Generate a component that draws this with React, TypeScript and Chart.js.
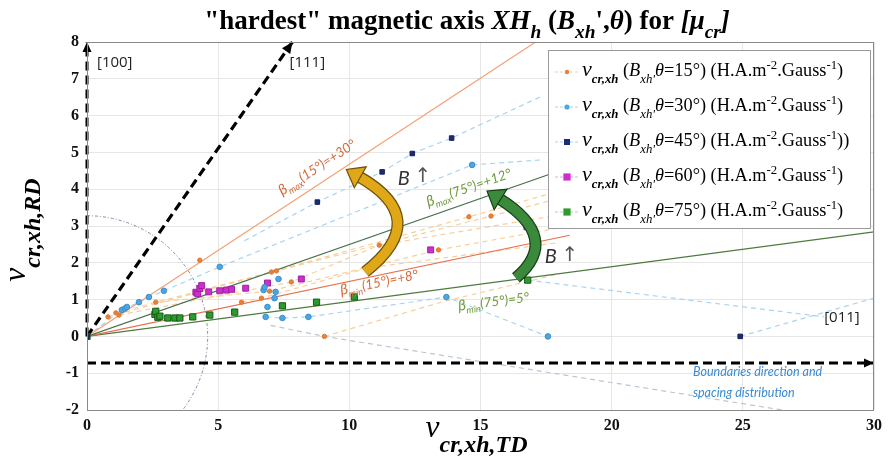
import React, { useEffect, useRef } from "react";
import { Chart, registerables } from "chart.js";

Chart.register(...registerables);

type P = [number, number];

// ---------- axis ticks ----------
const xTickValues = [0, 5, 10, 15, 20, 25, 30];
const yTickValues = [-2, -1, 0, 1, 2, 3, 4, 5, 6, 7, 8];

// ---------- measured series (nu_TD, nu_RD) ----------
const theta15: P[] = [
  [0.8, 0.53], [1.1, 0.64], [1.22, 0.58], [2.62, 0.93], [4.3, 2.07], [5.89, 0.93],
  [6.65, 1.04], [6.96, 1.23], [7.03, 1.75], [7.22, 1.78], [7.79, 1.48], [9.05, 0],
  [10.7, 1.86], [11.14, 2.48], [13.4, 2.35], [14.56, 3.25], [15.4, 3.27],
];
const theta30: P[] = [
  [1.33, 0.72], [1.45, 0.76], [1.52, 0.8], [1.98, 0.93], [2.36, 1.07], [2.93, 1.24],
  [5.06, 1.89], [6.73, 1.26], [6.77, 1.34], [6.81, 0.53], [6.88, 0.8], [7.15, 1.04],
  [7.19, 1.21], [7.3, 1.56], [7.45, 0.5], [8.44, 0.53], [13.7, 1.07], [14.68, 4.66], [17.57, 0],
];
const theta45: P[] = [[0, 0], [8.78, 3.65], [11.25, 4.47], [12.4, 4.97], [13.9, 5.39], [24.9, 0]];
const theta60: P[] = [
  [4.15, 1.2], [4.22, 1.16], [4.3, 1.3], [4.37, 1.38], [4.64, 1.21], [5.06, 1.24],
  [5.32, 1.26], [5.51, 1.28], [6.05, 1.31], [6.88, 1.45], [8.17, 1.56], [13.1, 2.35], [16.77, 2.98],
];
const theta75: P[] = [
  [0, 0], [2.59, 0.6], [2.62, 0.68], [2.7, 0.52], [2.78, 0.55], [3.08, 0.5], [3.35, 0.5],
  [3.54, 0.5], [4.03, 0.53], [4.68, 0.58], [5.63, 0.66], [7.45, 0.83], [8.75, 0.93],
  [10.19, 1.07], [16.8, 1.53],
];

// ---------- angular bounds (solid lines from the origin) ----------
const betaMax15: P[] = [[0, 0], [17.1, 8]];
const betaMax75: P[] = [[0, 0], [20, 5]];
const betaMin15: P[] = [[0, 0], [18.4, 2.75]];
const betaMin75: P[] = [[0, 0], [30, 2.84]];

// ---------- crystal directions (black dashed arrows) ----------
const dir100: P[] = [[0, 0], [0, 8]];
const dir111: P[] = [[0, 0], [7.83, 8]];
const boundaryDir: P[] = [[0, -0.72], [30, -0.72]];

// ---------- light dashed connectors ----------
const link15: P[][] = [
  [[1.1, 0.64], [7.03, 1.75], [14.56, 3.25], [18, 3.95]],
  [[0.8, 0.53], [7.22, 1.78], [15.4, 3.27], [18, 3.75]],
  [[1.22, 0.58], [7.79, 1.48], [11.14, 2.48], [18, 3.3]],
  [[2.62, 0.93], [6.96, 1.23], [13.4, 2.35], [18, 2.95]],
  [[5.89, 0.93], [6.65, 1.04], [10.7, 1.86], [18, 2.55]],
  [[9.05, 0], [13.6, 0.95], [18, 1.7]],
];
const link30: P[][] = [
  [[0, 0], [1.33, 0.72], [1.98, 0.93], [2.93, 1.24], [5.06, 1.89], [14.68, 4.66], [17.4, 4.8]],
  [[6.0, 2.6], [8.78, 3.65], [11.25, 4.47], [12.4, 4.97], [13.9, 5.39], [17.4, 6.55]],
  [[6.81, 0.53], [7.45, 0.5], [8.44, 0.53], [13.7, 1.07], [17.57, 0]],
  [[24.9, 0], [30, 1.04]],
  [[16.8, 1.53], [28.1, 0.53]],
];
const linkGrey: P[] = [[7.0, 0.3], [9.05, 0], [26.5, -2]];

// ---------- annotation anchors ----------
const quarterRadiusX = 4.6;
const goldArrow: P[] = [[10.6, 1.75], [13.2, 3.2], [10.35, 4.35]];
const greenArrow: P[] = [[16.35, 1.59], [18.12, 2.67], [15.7, 3.75]];

const legendLabels = ["15", "30", "45", "60", "75"];
const legendColors = ["#e8803a", "#4da6e0", "#1c2a78", "#cc2fcc", "#2d9a2d"];
const legendLineColors = ["#f8cf98", "#a8d4f0", "#a8d4f0", "#e0a8e0", "#a8d8a8"];

const SERIF = "'Liberation Serif', 'Times New Roman', serif";
const SANS = "Lato, 'Open Sans', sans-serif";

type Seg = { t: string; i?: boolean; b?: boolean; sub?: boolean; sup?: boolean; k?: number; dy?: number; c?: string };

function fontOf(s: Seg, size: number, fam: string, subK: number) {
  const sz = s.sub || s.sup ? size * subK : size * (s.k ?? 1);
  return `${s.i ? "italic " : ""}${s.b ? "bold " : ""}${sz.toFixed(1)}px ${fam}`;
}
function richWidth(ctx: CanvasRenderingContext2D, segs: Seg[], size: number, fam: string, subK: number) {
  let w = 0;
  for (const s of segs) {
    ctx.font = fontOf(s, size, fam, subK);
    w += ctx.measureText(s.t).width;
  }
  return w;
}
function drawRich(
  ctx: CanvasRenderingContext2D, segs: Seg[], x: number, y: number, size: number,
  fam: string, color: string, align: "left" | "center", subK = 0.72, subDy = 0.3,
) {
  ctx.save();
  ctx.textAlign = "left";
  ctx.textBaseline = "alphabetic";
  const w = richWidth(ctx, segs, size, fam, subK);
  let cx = align === "center" ? x - w / 2 : x;
  for (const s of segs) {
    ctx.font = fontOf(s, size, fam, subK);
    const dy = s.dy ?? (s.sub ? size * subDy : s.sup ? -size * 0.38 : 0);
    ctx.fillStyle = s.c ?? color;
    ctx.fillText(s.t, cx, y + dy);
    cx += ctx.measureText(s.t).width;
  }
  ctx.restore();
}

function arrowHead(ctx: CanvasRenderingContext2D, tx: number, ty: number, fx: number, fy: number, len: number, hw: number, fill: string, stroke?: string) {
  const a = Math.atan2(ty - fy, tx - fx);
  const bx = tx - len * Math.cos(a), by = ty - len * Math.sin(a);
  ctx.beginPath();
  ctx.moveTo(tx, ty);
  ctx.lineTo(bx + hw * Math.sin(a), by - hw * Math.cos(a));
  ctx.lineTo(bx - hw * Math.sin(a), by + hw * Math.cos(a));
  ctx.closePath();
  ctx.fillStyle = fill;
  ctx.fill();
  if (stroke) {
    ctx.strokeStyle = stroke;
    ctx.lineWidth = 1.2;
    ctx.setLineDash([]);
    ctx.stroke();
  }
}

const annotations = {
  id: "annotations",
  beforeDatasetsDraw(chart: any) {
    const { ctx, chartArea: ca } = chart;
    const xs = chart.scales.x, ys = chart.scales.y;
    ctx.save();
    ctx.beginPath();
    ctx.rect(ca.left, ca.top, ca.right - ca.left, ca.bottom - ca.top);
    ctx.clip();
    const ox = xs.getPixelForValue(0), oy = ys.getPixelForValue(0);
    const r = xs.getPixelForValue(quarterRadiusX) - ox;
    ctx.beginPath();
    ctx.arc(ox, oy, r, -Math.PI / 2, Math.PI / 2);
    ctx.setLineDash([3, 2, 1, 2]);
    ctx.strokeStyle = "#7a7a9a";
    ctx.lineWidth = 0.9;
    ctx.stroke();
    ctx.restore();
  },
  afterDatasetsDraw(chart: any) {
    const { ctx, chartArea: ca } = chart;
    const xs = chart.scales.x, ys = chart.scales.y;
    const X = (v: number) => xs.getPixelForValue(v);
    const Y = (v: number) => ys.getPixelForValue(v);

    // arrow heads of the crystal directions
    arrowHead(ctx, X(dir100[1][0]), Y(dir100[1][1]), X(dir100[0][0]), Y(dir100[0][1]), 10, 4.5, "#000");
    arrowHead(ctx, X(dir111[1][0]), Y(dir111[1][1]), X(dir111[0][0]), Y(dir111[0][1]), 11, 5, "#000");
    arrowHead(ctx, X(boundaryDir[1][0]), Y(boundaryDir[1][1]), X(boundaryDir[0][0]), Y(boundaryDir[0][1]), 10, 4.5, "#000");

    // curved arrows
    const curved = (pts: P[], fill: string, stroke: string) => {
      const p0 = { x: X(pts[0][0]), y: Y(pts[0][1]) };
      const c = { x: X(pts[1][0]), y: Y(pts[1][1]) };
      const p1 = { x: X(pts[2][0]), y: Y(pts[2][1]) };
      ctx.save();
      ctx.setLineDash([]);
      ctx.lineCap = "butt";
      ctx.beginPath();
      ctx.moveTo(p0.x, p0.y);
      ctx.quadraticCurveTo(c.x, c.y, p1.x, p1.y);
      ctx.strokeStyle = stroke;
      ctx.lineWidth = 12;
      ctx.stroke();
      ctx.strokeStyle = fill;
      ctx.lineWidth = 9.5;
      ctx.stroke();
      const a = Math.atan2(p1.y - c.y, p1.x - c.x);
      arrowHead(ctx, p1.x + 14 * Math.cos(a), p1.y + 14 * Math.sin(a), p1.x, p1.y, 16, 12, fill, stroke);
      ctx.restore();
    };
    curved(goldArrow, "#e0a818", "#6a5206");
    curved(greenArrow, "#3b8a3b", "#173f17");

    // rotated beta labels
    const betaLabel = (line: P[], ax: number, ay: number, sub: string, rest: string, color: string) => {
      const a = Math.atan2(Y(line[1][1]) - Y(line[0][1]), X(line[1][0]) - X(line[0][0]));
      ctx.save();
      ctx.translate(X(ax), Y(ay));
      ctx.rotate(a);
      drawRich(ctx, [{ t: "β", i: true, k: 1.1 }, { t: sub, i: true, sub: true }, { t: rest, i: true }], 0, 4, 13.5, SANS, color, "center", 0.7, 0.28);
      ctx.restore();
    };
    betaLabel(betaMax15, 8.78, 4.58, "max", "(15°)=+30°", "#d2693c");
    betaLabel(betaMax75, 14.56, 4.03, "max", "(75°)=+12°", "#6e9a3c");
    betaLabel(betaMin15, 11.14, 1.45, "min", "(15°)=+8°", "#d2693c");
    betaLabel(betaMin75, 15.5, 0.93, "min", "(75°)=5°", "#6e9a3c");

    // B arrows text
    const bUp = (x: number, y: number) => {
      ctx.save();
      ctx.fillStyle = "#333";
      ctx.textBaseline = "middle";
      ctx.textAlign = "left";
      ctx.font = `italic 20px ${SANS}`;
      ctx.fillText("B", X(x), Y(y));
      const w = ctx.measureText("B ").width;
      ctx.font = `20px 'DejaVu Sans', sans-serif`;
      ctx.fillStyle = "#555";
      ctx.fillText("↑", X(x) + w, Y(y) - 1);
      ctx.restore();
    };
    bUp(11.85, 4.3);
    bUp(17.45, 2.16);

    // direction labels
    ctx.save();
    ctx.fillStyle = "#222";
    ctx.font = `15px 'Open Sans', sans-serif`;
    ctx.textBaseline = "middle";
    ctx.textAlign = "left";
    ctx.fillText("[100]", X(0.38), Y(7.45));
    ctx.fillText("[111]", X(7.72), Y(7.45));
    ctx.fillText("[011]", X(28.1), Y(0.5));
    ctx.fillStyle = "#3a8ad0";
    ctx.font = `italic 12.5px ${SANS}`;
    ctx.fillText("Boundaries direction and", X(23.1), Y(-0.97));
    ctx.fillText("spacing distribution", X(23.1), Y(-1.54));
    ctx.restore();

    // frame
    ctx.save();
    ctx.strokeStyle = "#8a8a8a";
    ctx.lineWidth = 1;
    ctx.setLineDash([]);
    ctx.strokeRect(ca.left + 0.5, ca.top + 0.5, ca.right - ca.left - 1, ca.bottom - ca.top);
    ctx.restore();
  },
  afterDraw(chart: any) {
    const { ctx, chartArea: ca } = chart;
    // title
    drawRich(ctx, [
      { t: '"hardest" magnetic axis ', b: true },
      { t: "XH", b: true, i: true },
      { t: "h", b: true, i: true, sub: true },
      { t: " (", b: true },
      { t: "B", b: true, i: true },
      { t: "xh", b: true, i: true, sub: true },
      { t: "',", b: true },
      { t: "θ", b: true, i: true },
      { t: ") for ", b: true },
      { t: "[μ", b: true, i: true },
      { t: "cr", b: true, i: true, sub: true },
      { t: "]", b: true, i: true },
    ], 467, 29, 27, SERIF, "#000", "center", 0.72, 0.33);

    // x axis title (centred under the axes)
    const midX = (ca.left + ca.right) / 2 - 4;
    drawRich(ctx, [{ t: "ν", i: true, k: 1.05 }, { t: "cr,xh,TD", i: true, b: true, sub: true }], midX, 437, 30, SERIF, "#000", "center", 0.8, 0.5);
    // y axis title
    ctx.save();
    ctx.translate(25, (ca.top + ca.bottom) / 2 + 4);
    ctx.rotate(-Math.PI / 2);
    drawRich(ctx, [{ t: "ν", i: true, k: 1.05 }, { t: "cr,xh,RD", i: true, b: true, sub: true }], 0, 0, 30, SERIF, "#000", "center", 0.8, 0.5);
    ctx.restore();

    // legend
    const lx = 548, ly = 50, lw = 322, lh = 178;
    ctx.save();
    ctx.fillStyle = "#fff";
    ctx.fillRect(lx, ly, lw, lh);
    ctx.strokeStyle = "#9a9a9a";
    ctx.lineWidth = 1;
    ctx.strokeRect(lx + 0.5, ly + 0.5, lw, lh);
    legendLabels.forEach((lab, k) => {
      const cy = ly + 22 + k * 35;
      ctx.strokeStyle = legendLineColors[k];
      ctx.setLineDash([3, 2]);
      ctx.lineWidth = 1;
      ctx.beginPath();
      ctx.moveTo(lx + 7, cy);
      ctx.lineTo(lx + 30, cy);
      ctx.stroke();
      ctx.fillStyle = legendColors[k];
      const s = k === 0 ? 2.2 : k === 1 ? 2.6 : k === 2 ? 3 : 3.6;
      if (k < 2) {
        ctx.beginPath();
        ctx.arc(lx + 19, cy, s, 0, Math.PI * 2);
        ctx.fill();
      } else {
        ctx.fillRect(lx + 19 - s, cy - s, 2 * s, 2 * s);
      }
      drawRich(ctx, [
        { t: "ν", i: true, k: 1.2 },
        { t: "cr,xh", i: true, b: true, sub: true },
        { t: " (" },
        { t: "B", i: true },
        { t: "xh'", i: true, sub: true },
        { t: "θ", i: true },
        { t: `=${lab}°) (H.A.m` },
        { t: "-2", sup: true },
        { t: ".Gauss" },
        { t: "-1", sup: true },
        { t: k === 2 ? "))" : ")" },
      ], lx + 34, cy + 4, 18.3, SERIF, "#000", "left", 0.7, 0.38);
    });
    ctx.restore();
  },
};

const toXY = (pts: P[]) => pts.map(([x, y]) => ({ x, y }));

export default function App() {
  const ref = useRef<HTMLCanvasElement>(null);
  useEffect(() => {
    if (!ref.current) return;
    const pointSet = (pts: P[], style: string, r: number, bg: string, border: string) => ({
      data: toXY(pts), showLine: false, pointStyle: style, pointRadius: r, pointBackgroundColor: bg,
      pointBorderColor: border, pointBorderWidth: 1, backgroundColor: bg, borderColor: border,
    });
    const lineSet = (pts: P[], color: string, width: number, dash: number[], clip: any = undefined) => ({
      data: toXY(pts), showLine: true, pointRadius: 0, borderColor: color, borderWidth: width,
      borderDash: dash, fill: false, tension: 0, ...(clip !== undefined ? { clip } : {}),
    });
    const datasets: any[] = [
      pointSet(theta15, "circle", 2.2, "#e8803a", "#e07a30"),
      pointSet(theta30, "circle", 2.8, "#4da6e0", "#3a8fcc"),
      pointSet(theta45, "rect", 3.2, "#1c2a78", "#15205c"),
      pointSet(theta60, "rect", 4.2, "#cc2fcc", "#a020a0"),
      pointSet(theta75, "rect", 4.4, "#2d9a2d", "#175a17"),
      lineSet(dir100, "#000", 3, [9, 5], false),
      lineSet(dir111, "#000", 3.2, [9, 5], false),
      lineSet(boundaryDir, "#000", 3, [9, 5], false),
      lineSet(betaMax15, "#f2a274", 1.2, []),
      lineSet(betaMax75, "#46704a", 1.1, []),
      lineSet(betaMin15, "#e8704a", 1.1, []),
      lineSet(betaMin75, "#4e7a3e", 1.1, []),
      ...link15.map((l) => lineSet(l, "#f8cf98", 1.2, [5, 4])),
      ...link30.map((l) => lineSet(l, "#a8d4f0", 1.2, [5, 4])),
      lineSet(linkGrey, "#b8c6d6", 1.2, [5, 4]),
    ];
    const tickFont = { family: SERIF, size: 16, weight: "bold" as const };
    const chart = new Chart(ref.current, {
      type: "scatter",
      data: { datasets },
      options: {
        responsive: false,
        maintainAspectRatio: false,
        animation: false,
        events: [],
        layout: { padding: { top: 42, right: 12, bottom: 0, left: 0 } },
        plugins: { legend: { display: false }, tooltip: { enabled: false }, title: { display: false } },
        scales: {
          x: {
            type: "linear", min: 0, max: 30,
            afterBuildTicks: (s: any) => { s.ticks = xTickValues.map((value) => ({ value })); },
            afterFit: (s: any) => { s.height = 56; },
            grid: { color: "#e6e6e6", drawTicks: false },
            border: { display: false },
            ticks: { font: tickFont, color: "#111", padding: 6, maxRotation: 0 },
          },
          y: {
            type: "linear", min: -2, max: 8,
            afterBuildTicks: (s: any) => { s.ticks = yTickValues.map((value) => ({ value })); },
            afterFit: (s: any) => { s.width = 87; },
            grid: { color: "#e6e6e6", drawTicks: false },
            border: { display: false },
            ticks: { font: tickFont, color: "#111", padding: 8 },
          },
        },
      },
      plugins: [annotations],
    });
    return () => chart.destroy();
  }, []);
  return (
    <div style={{ position: "absolute", left: 0, top: 0, width: 888, height: 466, background: "#fff" }}>
      <canvas ref={ref} width={888} height={466} style={{ width: 888, height: 466, display: "block" }} />
    </div>
  );
}
